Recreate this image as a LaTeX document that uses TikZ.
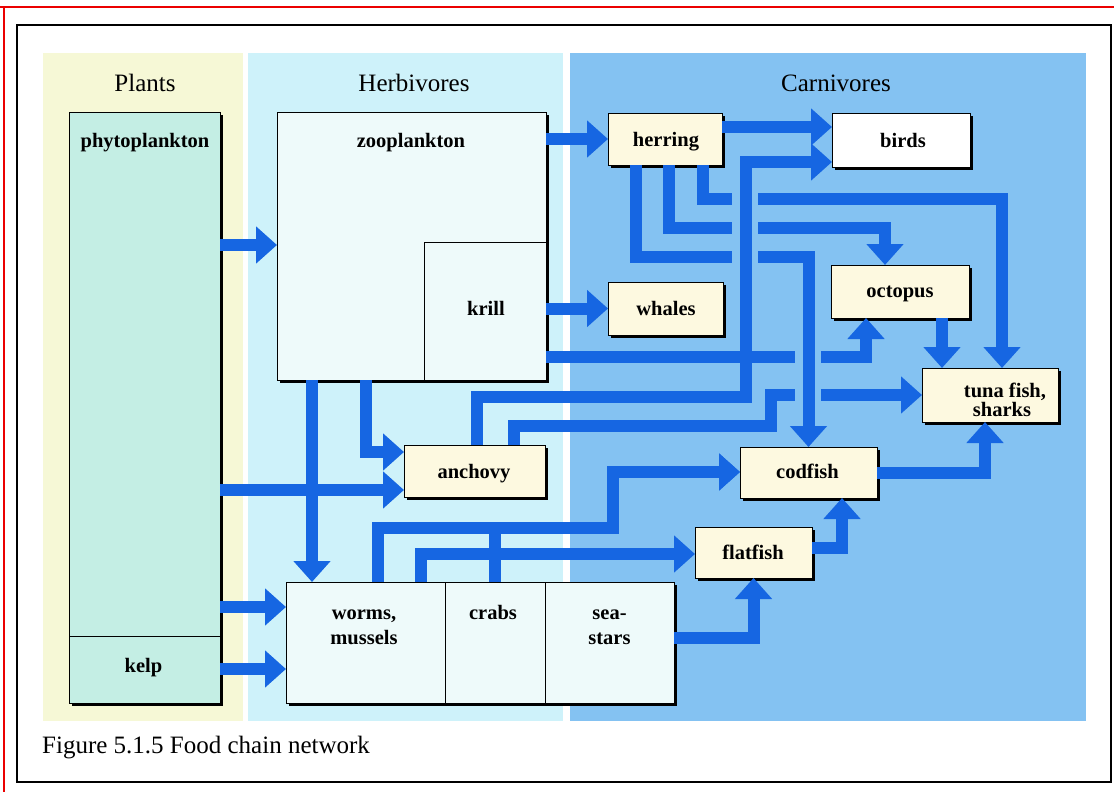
\documentclass[tikz,border=0pt]{standalone}
\usepackage{fontspec}
\setmainfont{Liberation Serif}
\usetikzlibrary{arrows.meta,shadows}
\definecolor{flowblue}{RGB}{22,102,226}
\definecolor{plantbg}{RGB}{246,248,214}
\definecolor{herbbg}{RGB}{206,242,250}
\definecolor{carnbg}{RGB}{132,194,242}
\definecolor{phytofill}{RGB}{196,238,228}
\definecolor{zoofill}{RGB}{238,250,250}
\definecolor{creamfill}{RGB}{253,249,224}
\definecolor{redline}{RGB}{235,0,0}
\begin{document}
\begin{tikzpicture}[x=1pt,y=-1pt,
  box/.style={draw=black, line width=0.8pt, inner sep=0pt, outer sep=0pt,
    drop shadow={shadow xshift=3pt, shadow yshift=-3pt, opacity=1, fill=black}},
  subbox/.style={draw=black, line width=0.8pt, inner sep=0pt, outer sep=0pt},
  lbl/.style={font=\fontsize{20.5}{24}\selectfont\bfseries, inner sep=0pt, anchor=base},
  hdr/.style={font=\fontsize{25}{30}\selectfont, inner sep=0pt, anchor=base},
  flowline/.style={draw=flowblue, line width=12pt, line join=miter, line cap=butt},
  flow/.style={flowline, -{Triangle[width=36pt,length=21pt]}}
]
\useasboundingbox (0,0) rectangle (1114,792);
\fill[white] (0,0) rectangle (1114,792);
% screenshot frame
\draw[redline, line width=1.5pt] (0,7) -- (1114,7);
\draw[redline, line width=1.5pt] (4,7) -- (4,792);
\draw[black, line width=2.5pt] (17,25) rectangle (1111,782);
% panels
\fill[plantbg] (43,53) rectangle (243,721);
\fill[herbbg] (248,53) rectangle (563,721);
\fill[carnbg] (570,53) rectangle (1086,721);
% headers
\node[hdr] (hPlants) at (145,92) {Plants};
\node[hdr] (hHerb) at (414,92) {Herbivores};
\node[hdr] (hCarn) at (836,92) {Carnivores};
% boxes
\node[box, fill=phytofill, minimum width=151pt, minimum height=524pt] (phyto) at (144.5,374) {};
\node[box, fill=phytofill, minimum width=151pt, minimum height=67pt] (kelp) at (144.5,669.5) {};
\node[box, fill=zoofill, minimum width=269pt, minimum height=268pt] (zoo) at (411.5,246) {};
\node[subbox, fill=zoofill, minimum width=122pt, minimum height=138pt] (krill) at (485,311) {};
\node[box, fill=zoofill, minimum width=159pt, minimum height=121pt] (worms) at (365.5,642.5) {};
\node[box, fill=zoofill, minimum width=100pt, minimum height=121pt] (crabs) at (495,642.5) {};
\node[box, fill=zoofill, minimum width=129pt, minimum height=121pt] (seastars) at (609.5,642.5) {};
\node[box, fill=creamfill, minimum width=114pt, minimum height=52pt] (herring) at (665,139) {};
\node[box, fill=white, minimum width=138pt, minimum height=54pt] (birds) at (901,140) {};
\node[box, fill=creamfill, minimum width=115pt, minimum height=53pt] (whales) at (665.5,308.5) {};
\node[box, fill=creamfill, minimum width=138pt, minimum height=53pt] (octopus) at (900,291.5) {};
\node[box, fill=creamfill, minimum width=136pt, minimum height=54pt] (tuna) at (990,395) {};
\node[box, fill=creamfill, minimum width=141pt, minimum height=52pt] (anchovy) at (474.5,471) {};
\node[box, fill=creamfill, minimum width=137pt, minimum height=51pt] (codfish) at (808.5,472.5) {};
\node[box, fill=creamfill, minimum width=117pt, minimum height=51pt] (flatfish) at (753.5,552.5) {};
% labels
\node[lbl] (phytoT) at (145,147) {phytoplankton};
\node[lbl] (kelpT) at (143.5,672) {kelp};
\node[lbl] (zooT) at (411,147) {zooplankton};
\node[lbl] (krillT) at (486,315) {krill};
\node[lbl] (wormsT1) at (364,619) {worms,};
\node[lbl] (wormsT2) at (364,644) {mussels};
\node[lbl] (crabsT) at (493,619) {crabs};
\node[lbl] (seaT1) at (609.5,619) {sea-};
\node[lbl] (seaT2) at (609.5,644) {stars};
\node[lbl] (herringT) at (666,146) {herring};
\node[lbl] (birdsT) at (903,147) {birds};
\node[lbl] (whalesT) at (666,315) {whales};
\node[lbl] (octopusT) at (900,297) {octopus};
\node[lbl] (tunaT1) at (1005,397) {tuna fish,};
\node[lbl] (tunaT2) at (1002,416) {sharks};
\node[lbl] (anchovyT) at (474,478) {anchovy};
\node[lbl] (codfishT) at (807.5,478) {codfish};
\node[lbl] (flatfishT) at (753,559) {flatfish};
\node[hdr, anchor=base west] (caption) at (42,753) {Figure 5.1.5 Food chain network};
% flows from plants
\draw[flow] (phyto.east |- 0,245) -- (zoo.west |- 0,245);
\draw[flow] (phyto.east |- 0,490) -- (anchovy.west |- 0,490);
\draw[flow] (phyto.east |- 0,607) -- (worms.west |- 0,607);
\draw[flow] (kelp.east |- 0,669) -- (worms.west |- 0,669);
% flows from zooplankton / krill
\draw[flow] (zoo.east |- herring.west) -- (herring.west);
\draw[flow] (krill.east |- whales.west) -- (whales.west);
\draw[flow] (zoo.south -| 312,0) -- (worms.north -| 312,0);
\draw[flow] (zoo.south -| 366,0) |- (anchovy.west |- 0,452);
\draw[flowline] (zoo.east |- 0,357) -- (795,357);
\draw[flow] (821,357) -| ([xshift=-34pt]octopus.south);
% flows from herring
\draw[flow] (herring.east |- 0,127) -- (birds.west |- 0,127);
\draw[flowline] ([xshift=-29pt]herring.south) |- (732,257);
\draw[flow] (758,257) -| (codfish.north);
\draw[flowline] ([xshift=4pt]herring.south) |- (732,228);
\draw[flow] (758,228) -| ([xshift=-15pt]octopus.north);
\draw[flowline] ([xshift=38pt]herring.south) |- (732,199);
\draw[flow] (758,199) -| ([xshift=12pt]tuna.north);
% octopus to tuna
\draw[flow] ([xshift=42pt]octopus.south) -- ([xshift=-48pt]tuna.north);
% flows from anchovy
\draw[flow] ([xshift=2.5pt]anchovy.north) |- (746,397) |- (birds.west |- 0,162);
\draw[flowline] ([xshift=39.5pt]anchovy.north) |- (771,426) |- (795,395);
\draw[flow] (821,395) -- (tuna.west |- 0,395);
% flows from bottom dwellers
\draw[flow] (worms.north -| 378,0) |- (613,528) |- (codfish.west |- 0,472);
\draw[flow] (crabs.north) |- (613,528) |- (codfish.west |- 0,472);
\draw[flow] (worms.north -| 421,0) |- (flatfish.west |- 0,554);
\draw[flow] (seastars.east |- 0,638) -| (flatfish.south);
\draw[flow] (flatfish.east |- 0,548) -| (codfish.south -| 842,0);
\draw[flow] (codfish.east) -| (tuna.south -| 985,0);
\end{tikzpicture}
\end{document}
